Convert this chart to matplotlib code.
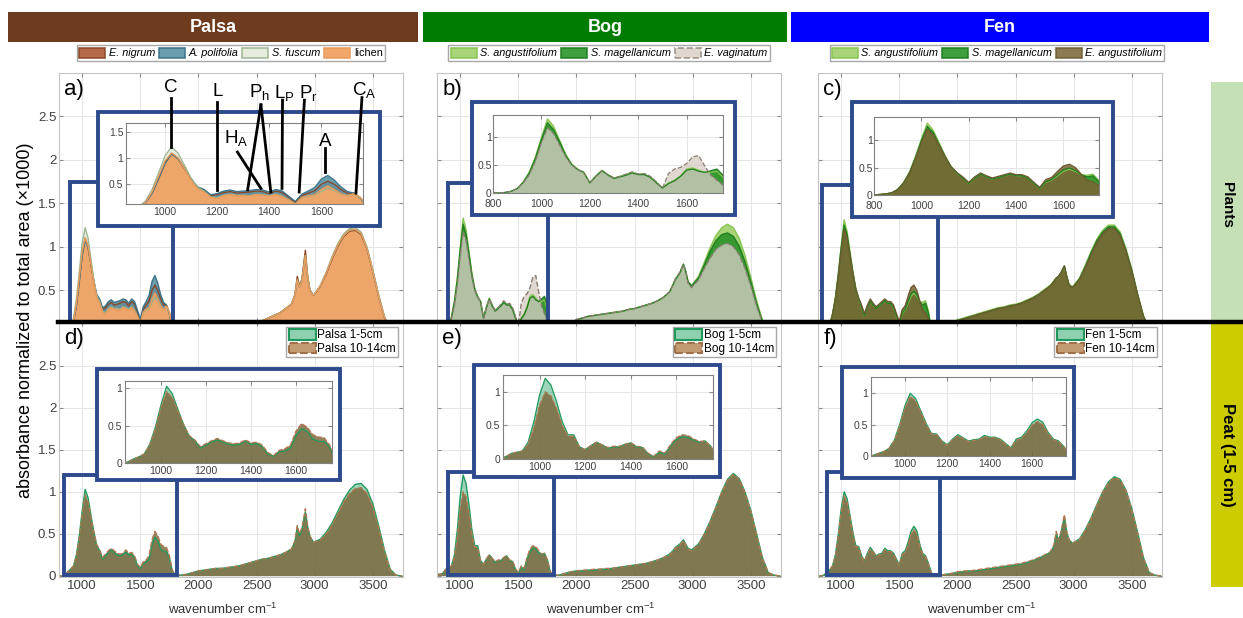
import numpy as np
import matplotlib.pyplot as plt
from matplotlib.patches import Rectangle, Patch
from matplotlib.lines import Line2D
from matplotlib.ticker import FuncFormatter

plt.rcParams['font.family'] = ['Liberation Sans', 'DejaVu Sans']
plt.rcParams['mathtext.fontset'] = 'custom'
plt.rcParams['mathtext.rm'] = 'Liberation Sans'
plt.rcParams['mathtext.it'] = 'Liberation Sans:italic'

W, H = 1243, 618

# -------------------------------------------------------
# wavenumber grid (cm-1), read-off spectra (absorbance x1000)
# rows: 800-1800 (step 25) | 1850-2800 (step 50) | C-H band | O-H band
# -------------------------------------------------------
WN = np.r_[800:1801:25, 1850:2801:50,
           [2830, 2850, 2870, 2890, 2920, 2940, 2960, 2990], 3050:3751:50]

# Palsa plants
E_NIGRUM = [
    0, 0, 0.01, 0.03, 0.06, 0.15, 0.33, 0.62, 0.92, 1.10,
    1.00, 0.80, 0.60, 0.44, 0.38, 0.28, 0.30, 0.34, 0.36, 0.33,
    0.34, 0.35, 0.37, 0.36, 0.32, 0.37, 0.34, 0.25, 0.15, 0.28,
    0.33, 0.38, 0.50, 0.56, 0.50, 0.40, 0.33, 0.33, 0.24, 0.07,
    0.01,
    0.00, 0.00, 0.01, 0.01, 0.02, 0.02, 0.03, 0.03, 0.04, 0.05,
    0.06, 0.08, 0.10, 0.12, 0.15, 0.18, 0.21, 0.24, 0.29, 0.34,
    0.45, 0.66, 0.55, 0.63, 0.96, 0.66, 0.50, 0.44,
    0.55, 0.69, 0.86, 1.01, 1.12, 1.18, 1.19, 1.14, 0.98, 0.72,
    0.44, 0.19, 0.05, 0.01, 0.00]
A_POLIFOLIA = [
    0, 0, 0.01, 0.03, 0.06, 0.14, 0.32, 0.60, 0.90, 1.08,
    0.99, 0.80, 0.60, 0.45, 0.40, 0.30, 0.32, 0.37, 0.39, 0.36,
    0.37, 0.38, 0.40, 0.39, 0.35, 0.40, 0.37, 0.27, 0.17, 0.31,
    0.37, 0.44, 0.60, 0.67, 0.58, 0.45, 0.36, 0.33, 0.23, 0.07,
    0.01,
    0.00, 0.00, 0.01, 0.01, 0.02, 0.02, 0.03, 0.03, 0.04, 0.05,
    0.06, 0.08, 0.10, 0.12, 0.15, 0.18, 0.21, 0.24, 0.29, 0.34,
    0.44, 0.62, 0.54, 0.61, 0.90, 0.64, 0.49, 0.44,
    0.55, 0.70, 0.87, 1.02, 1.13, 1.19, 1.20, 1.15, 0.98, 0.72,
    0.43, 0.19, 0.05, 0.01, 0.00]
S_FUSCUM = [
    0, 0, 0.01, 0.03, 0.07, 0.18, 0.40, 0.72, 1.05, 1.22,
    1.10, 0.86, 0.62, 0.44, 0.37, 0.26, 0.24, 0.29, 0.31, 0.29,
    0.29, 0.28, 0.31, 0.30, 0.28, 0.31, 0.27, 0.20, 0.12, 0.24,
    0.27, 0.29, 0.36, 0.42, 0.38, 0.31, 0.28, 0.31, 0.24, 0.08,
    0.01,
    0.00, 0.00, 0.01, 0.01, 0.02, 0.02, 0.03, 0.03, 0.04, 0.05,
    0.06, 0.08, 0.10, 0.12, 0.15, 0.18, 0.21, 0.24, 0.29, 0.34,
    0.44, 0.62, 0.54, 0.61, 0.90, 0.64, 0.49, 0.44,
    0.56, 0.71, 0.89, 1.04, 1.15, 1.21, 1.22, 1.17, 1.00, 0.74,
    0.45, 0.20, 0.05, 0.01, 0.00]
LICHEN = [
    0, 0, 0.00, 0.02, 0.05, 0.15, 0.35, 0.65, 0.95, 1.10,
    1.01, 0.80, 0.58, 0.41, 0.35, 0.25, 0.22, 0.28, 0.30, 0.28,
    0.28, 0.27, 0.30, 0.29, 0.27, 0.30, 0.26, 0.20, 0.12, 0.25,
    0.28, 0.30, 0.40, 0.47, 0.40, 0.32, 0.28, 0.32, 0.25, 0.09,
    0.01,
    0.00, 0.00, 0.01, 0.01, 0.02, 0.02, 0.03, 0.03, 0.04, 0.05,
    0.06, 0.08, 0.10, 0.12, 0.15, 0.18, 0.21, 0.24, 0.29, 0.34,
    0.44, 0.62, 0.54, 0.61, 0.90, 0.64, 0.49, 0.44,
    0.55, 0.70, 0.87, 1.02, 1.13, 1.19, 1.20, 1.15, 0.98, 0.72,
    0.43, 0.19, 0.05, 0.01, 0.00]

# Bog plants
S_ANG_BOG = [
    0, 0, 0.01, 0.03, 0.08, 0.20, 0.38, 0.65, 1.00, 1.33,
    1.20, 0.95, 0.70, 0.52, 0.43, 0.37, 0.19, 0.31, 0.41, 0.33,
    0.27, 0.30, 0.33, 0.37, 0.34, 0.34, 0.29, 0.19, 0.09, 0.18,
    0.23, 0.31, 0.43, 0.45, 0.41, 0.37, 0.37, 0.39, 0.28, 0.06,
    0.01,
    0.03, 0.08, 0.12, 0.16, 0.18, 0.20, 0.21, 0.22, 0.23, 0.24,
    0.25, 0.26, 0.28, 0.29, 0.31, 0.33, 0.35, 0.38, 0.42, 0.48,
    0.56, 0.62, 0.66, 0.70, 0.80, 0.72, 0.60, 0.55,
    0.66, 0.82, 0.99, 1.13, 1.22, 1.26, 1.22, 1.10, 0.90, 0.65,
    0.38, 0.16, 0.04, 0.01, 0.00]
S_MAG_BOG = [
    0, 0, 0.01, 0.03, 0.08, 0.19, 0.36, 0.62, 0.96, 1.26,
    1.14, 0.92, 0.68, 0.51, 0.42, 0.37, 0.18, 0.30, 0.40, 0.32,
    0.26, 0.29, 0.32, 0.36, 0.33, 0.33, 0.28, 0.18, 0.09, 0.17,
    0.22, 0.30, 0.41, 0.43, 0.39, 0.37, 0.40, 0.43, 0.32, 0.07,
    0.01,
    0.03, 0.08, 0.12, 0.16, 0.18, 0.20, 0.21, 0.22, 0.23, 0.24,
    0.25, 0.26, 0.28, 0.29, 0.31, 0.33, 0.35, 0.38, 0.42, 0.48,
    0.56, 0.62, 0.66, 0.70, 0.80, 0.72, 0.60, 0.55,
    0.64, 0.79, 0.95, 1.07, 1.14, 1.16, 1.12, 1.01, 0.83, 0.60,
    0.35, 0.14, 0.03, 0.01, 0.00]
E_VAGINATUM = [
    0, 0, 0.01, 0.03, 0.08, 0.18, 0.33, 0.57, 0.90, 1.17,
    1.07, 0.86, 0.65, 0.50, 0.42, 0.37, 0.18, 0.30, 0.40, 0.33,
    0.27, 0.30, 0.34, 0.38, 0.34, 0.35, 0.30, 0.20, 0.09, 0.35,
    0.43, 0.46, 0.53, 0.65, 0.67, 0.48, 0.32, 0.23, 0.14, 0.03,
    0.00,
    0.03, 0.08, 0.12, 0.16, 0.18, 0.20, 0.21, 0.22, 0.23, 0.24,
    0.25, 0.26, 0.28, 0.29, 0.31, 0.33, 0.35, 0.38, 0.42, 0.48,
    0.56, 0.63, 0.67, 0.71, 0.80, 0.72, 0.58, 0.53,
    0.62, 0.75, 0.87, 0.97, 1.02, 1.04, 1.00, 0.91, 0.75, 0.55,
    0.32, 0.13, 0.03, 0.01, 0.00]

# Fen plants
S_ANG_FEN = [
    0, 0.01, 0.02, 0.04, 0.10, 0.23, 0.42, 0.70, 1.02, 1.31,
    1.18, 0.95, 0.72, 0.52, 0.40, 0.31, 0.21, 0.31, 0.38, 0.33,
    0.29, 0.32, 0.35, 0.38, 0.35, 0.35, 0.31, 0.21, 0.12, 0.23,
    0.27, 0.35, 0.43, 0.47, 0.43, 0.37, 0.36, 0.38, 0.26, 0.05,
    0.00,
    0.03, 0.09, 0.13, 0.16, 0.18, 0.20, 0.22, 0.24, 0.26, 0.28,
    0.30, 0.31, 0.33, 0.34, 0.36, 0.39, 0.42, 0.46, 0.51, 0.56,
    0.61, 0.64, 0.66, 0.70, 0.77, 0.66, 0.57, 0.54,
    0.64, 0.79, 0.95, 1.09, 1.19, 1.25, 1.25, 1.17, 0.98, 0.74,
    0.46, 0.21, 0.06, 0.01, 0.00]
S_MAG_FEN = [
    0, 0.01, 0.02, 0.04, 0.10, 0.22, 0.41, 0.68, 0.99, 1.25,
    1.14, 0.92, 0.70, 0.51, 0.40, 0.31, 0.21, 0.31, 0.38, 0.33,
    0.29, 0.32, 0.35, 0.38, 0.35, 0.35, 0.31, 0.21, 0.12, 0.24,
    0.28, 0.37, 0.46, 0.49, 0.45, 0.37, 0.33, 0.35, 0.24, 0.05,
    0.00,
    0.03, 0.08, 0.12, 0.15, 0.17, 0.19, 0.21, 0.23, 0.25, 0.27,
    0.29, 0.30, 0.32, 0.33, 0.35, 0.38, 0.41, 0.45, 0.50, 0.55,
    0.60, 0.64, 0.66, 0.70, 0.78, 0.66, 0.56, 0.53,
    0.63, 0.77, 0.93, 1.07, 1.17, 1.23, 1.23, 1.15, 0.96, 0.73,
    0.45, 0.20, 0.06, 0.01, 0.00]
E_ANGUSTIFOLIUM = [
    0, 0.01, 0.02, 0.04, 0.10, 0.22, 0.40, 0.66, 0.96, 1.20,
    1.10, 0.90, 0.70, 0.52, 0.41, 0.33, 0.23, 0.33, 0.40, 0.35,
    0.31, 0.34, 0.37, 0.40, 0.37, 0.37, 0.33, 0.23, 0.14, 0.28,
    0.32, 0.43, 0.53, 0.56, 0.50, 0.38, 0.27, 0.24, 0.17, 0.04,
    0.00,
    0.03, 0.08, 0.12, 0.15, 0.17, 0.19, 0.21, 0.23, 0.25, 0.27,
    0.29, 0.30, 0.32, 0.33, 0.35, 0.38, 0.41, 0.45, 0.50, 0.55,
    0.60, 0.64, 0.66, 0.70, 0.78, 0.66, 0.56, 0.53,
    0.62, 0.76, 0.91, 1.05, 1.15, 1.21, 1.21, 1.13, 0.95, 0.72,
    0.45, 0.20, 0.06, 0.01, 0.00]

# Peat, 1-5 cm and 10-14 cm
PALSA_1_5 = [
    0.00, 0.00, 0.01, 0.05, 0.08, 0.12, 0.25, 0.48, 0.78, 1.03,
    0.93, 0.72, 0.52, 0.36, 0.30, 0.20, 0.24, 0.28, 0.31, 0.28,
    0.25, 0.24, 0.25, 0.29, 0.25, 0.26, 0.22, 0.12, 0.09, 0.15,
    0.16, 0.20, 0.37, 0.46, 0.42, 0.32, 0.29, 0.29, 0.21, 0.06,
    0.01,
    0.01, 0.02, 0.04, 0.06, 0.07, 0.08, 0.09, 0.09, 0.10, 0.11,
    0.12, 0.14, 0.16, 0.18, 0.20, 0.21, 0.23, 0.25, 0.28, 0.32,
    0.40, 0.58, 0.48, 0.55, 0.76, 0.58, 0.47, 0.40,
    0.44, 0.52, 0.63, 0.77, 0.91, 1.02, 1.09, 1.10, 1.03, 0.86,
    0.60, 0.31, 0.08, 0.01, 0.00]
PALSA_10_14 = [
    0.00, 0.00, 0.01, 0.05, 0.08, 0.12, 0.24, 0.46, 0.74, 0.96,
    0.88, 0.70, 0.52, 0.37, 0.31, 0.22, 0.26, 0.30, 0.33, 0.30,
    0.27, 0.26, 0.27, 0.31, 0.27, 0.28, 0.24, 0.14, 0.10, 0.17,
    0.19, 0.24, 0.43, 0.53, 0.48, 0.38, 0.35, 0.34, 0.24, 0.07,
    0.01,
    0.01, 0.02, 0.04, 0.06, 0.07, 0.08, 0.09, 0.09, 0.10, 0.11,
    0.12, 0.14, 0.16, 0.18, 0.20, 0.21, 0.23, 0.25, 0.28, 0.32,
    0.42, 0.60, 0.50, 0.57, 0.80, 0.59, 0.47, 0.40,
    0.43, 0.50, 0.61, 0.74, 0.88, 0.98, 1.04, 1.05, 0.98, 0.82,
    0.57, 0.29, 0.07, 0.01, 0.00]
BOG_1_5 = [
    0.02, 0.02, 0.03, 0.08, 0.10, 0.12, 0.25, 0.55, 0.95, 1.20,
    1.10, 0.85, 0.55, 0.36, 0.36, 0.18, 0.14, 0.20, 0.25, 0.21,
    0.16, 0.18, 0.18, 0.22, 0.24, 0.18, 0.17, 0.08, 0.03, 0.10,
    0.07, 0.20, 0.29, 0.33, 0.32, 0.28, 0.25, 0.27, 0.19, 0.05,
    0.01,
    0.01, 0.03, 0.05, 0.06, 0.06, 0.07, 0.07, 0.08, 0.08, 0.09,
    0.10, 0.11, 0.12, 0.13, 0.14, 0.15, 0.17, 0.19, 0.22, 0.26,
    0.30, 0.34, 0.36, 0.38, 0.43, 0.38, 0.33, 0.31,
    0.38, 0.50, 0.65, 0.82, 1.00, 1.15, 1.22, 1.16, 1.00, 0.78,
    0.50, 0.22, 0.04, 0.01, 0.00]
BOG_10_14 = [
    0.02, 0.02, 0.03, 0.08, 0.10, 0.12, 0.22, 0.46, 0.80, 1.00,
    0.94, 0.75, 0.50, 0.34, 0.34, 0.18, 0.14, 0.20, 0.25, 0.21,
    0.17, 0.19, 0.19, 0.22, 0.24, 0.19, 0.18, 0.09, 0.04, 0.12,
    0.09, 0.22, 0.32, 0.36, 0.35, 0.30, 0.26, 0.27, 0.19, 0.05,
    0.01,
    0.01, 0.03, 0.05, 0.06, 0.07, 0.07, 0.08, 0.08, 0.09, 0.09,
    0.10, 0.11, 0.12, 0.13, 0.14, 0.15, 0.17, 0.19, 0.22, 0.25,
    0.29, 0.33, 0.35, 0.37, 0.42, 0.37, 0.32, 0.30,
    0.37, 0.49, 0.64, 0.81, 0.99, 1.14, 1.21, 1.15, 0.99, 0.77,
    0.49, 0.21, 0.04, 0.01, 0.00]
FEN_1_5 = [
    0.00, 0.00, 0.01, 0.04, 0.07, 0.12, 0.25, 0.50, 0.80, 1.00,
    0.92, 0.72, 0.52, 0.36, 0.35, 0.24, 0.18, 0.27, 0.34, 0.29,
    0.24, 0.26, 0.27, 0.33, 0.30, 0.30, 0.27, 0.20, 0.13, 0.27,
    0.30, 0.40, 0.53, 0.59, 0.54, 0.38, 0.27, 0.24, 0.15, 0.04,
    0.00,
    0.01, 0.02, 0.03, 0.04, 0.05, 0.06, 0.06, 0.07, 0.08, 0.09,
    0.10, 0.11, 0.12, 0.13, 0.14, 0.16, 0.18, 0.21, 0.24, 0.28,
    0.35, 0.50, 0.42, 0.50, 0.70, 0.52, 0.43, 0.39,
    0.44, 0.55, 0.69, 0.85, 1.00, 1.12, 1.18, 1.15, 1.02, 0.80,
    0.52, 0.22, 0.04, 0.01, 0.00]
FEN_10_14 = [
    0.00, 0.00, 0.01, 0.04, 0.07, 0.12, 0.24, 0.48, 0.76, 0.95,
    0.88, 0.70, 0.50, 0.35, 0.34, 0.23, 0.17, 0.26, 0.32, 0.28,
    0.23, 0.25, 0.26, 0.31, 0.29, 0.29, 0.26, 0.19, 0.12, 0.25,
    0.28, 0.37, 0.49, 0.55, 0.50, 0.36, 0.26, 0.23, 0.14, 0.04,
    0.00,
    0.01, 0.02, 0.03, 0.05, 0.06, 0.06, 0.07, 0.08, 0.09, 0.10,
    0.11, 0.12, 0.13, 0.14, 0.15, 0.17, 0.19, 0.22, 0.25, 0.29,
    0.37, 0.53, 0.43, 0.52, 0.73, 0.53, 0.43, 0.39,
    0.43, 0.54, 0.68, 0.84, 0.99, 1.11, 1.17, 1.14, 1.01, 0.79,
    0.51, 0.21, 0.04, 0.01, 0.00]

# -------------------------------------------------------
# styles: (values, face, alpha, edge, linestyle, label)
# -------------------------------------------------------
BLUE = '#2c4a8c'
PALSA_PLANTS = [
    (E_NIGRUM, '#b05a35', 0.9, '#8a4526', '-', 'E. nigrum'),
    (A_POLIFOLIA, '#5b95a8', 0.9, '#3b7388', '-', 'A. polifolia'),
    (S_FUSCUM, '#e4eadb', 0.9, '#9bb58e', '-', 'S. fuscum'),
    (LICHEN, '#f0a060', 0.92, '#eb9a58', '-', 'lichen'),
]
BOG_PLANTS = [
    (S_ANG_BOG, '#9fd068', 0.9, '#86c450', '-', 'S. angustifolium'),
    (S_MAG_BOG, '#2a942a', 0.9, '#1f7f1f', '-', 'S. magellanicum'),
    (E_VAGINATUM, '#d6cdc4', 0.78, '#8a7d72', '--', 'E. vaginatum'),
]
FEN_PLANTS = [
    (S_ANG_FEN, '#9fd068', 0.9, '#86c450', '-', 'S. angustifolium'),
    (S_MAG_FEN, '#2a942a', 0.9, '#1f7f1f', '-', 'S. magellanicum'),
    (E_ANGUSTIFOLIUM, '#7a6535', 0.86, '#6d5a30', '-', 'E. angustifolium'),
]
# legend swatches of the peat panels (lighter, as in the original key)
PEAT_KEY = [('#8fd0b0', '#1f9a5c', '-'), ('#c49a72', '#a0704a', '--')]


def peat(top, deep, site):
    return [(top, '#3aa874', 0.5, '#1f9a5c', '-', site + ' 1-5cm'),
            (deep, '#7a6236', 0.8, '#b07850', '--', site + ' 10-14cm')]


fig = plt.figure(figsize=(W / 100, H / 100), dpi=100)


def add_ax(x0, x1, y0, y1, **kw):
    return fig.add_axes([x0 / W, 1 - y1 / H, (x1 - x0) / W, (y1 - y0) / H], **kw)


def fig_rect(x0, x1, y0, y1, **kw):
    r = Rectangle((x0 / W, 1 - y1 / H), (x1 - x0) / W, (y1 - y0) / H,
                  transform=fig.transFigure, **kw)
    fig.add_artist(r)
    return r


fmt = FuncFormatter(lambda v, p: f'{v:g}')


def draw_spectra(ax, specs, lw=1.0):
    for vals, face, alpha, edge, ls, _ in specs:
        ax.fill_between(WN, 0, vals, facecolor=face, alpha=alpha, lw=0)
        ax.plot(WN, vals, color=edge, ls=ls, lw=lw)


def style(ax, xlim, ylim, xt, yt, size, spine, grid):
    ax.set_xlim(*xlim)
    ax.set_ylim(*ylim)
    ax.set_xticks(xt)
    ax.set_yticks(yt)
    ax.xaxis.set_major_formatter(fmt)
    ax.yaxis.set_major_formatter(fmt)
    ax.grid(True, color=grid, lw=0.7)
    ax.set_axisbelow(True)
    ax.tick_params(direction='in', length=3, top=True, right=True,
                   labelsize=size, labelcolor='#404040', color='#888888', pad=2)
    for sp in ax.spines.values():
        sp.set_color(spine)
        sp.set_linewidth(0.8)


MAIN_XT = [1000, 1500, 2000, 2500, 3000, 3500]
PANELS = [
    # letter, specs, axes px, zoom rect (x0, x1, top), inset px, inset box px, inset xlim, ylim, ticks
    ('a', PALSA_PLANTS, (59, 403, 73, 322), (895, 1780, 1.75),
     (126, 363, 123, 204), (98, 380, 112, 226), (850, 1760), (0.12, 1.68),
     [1000, 1200, 1400, 1600], [0.5, 1, 1.5]),
    ('b', BOG_PLANTS, (437, 781, 73, 322), (895, 1753, 1.74),
     (493, 723, 115, 193), (472, 735, 102, 215), (800, 1750), (0, 1.4),
     [800, 1000, 1200, 1400, 1600], [0, 0.5, 1]),
    ('c', FEN_PLANTS, (818, 1162, 73, 322), (834, 1830, 1.71),
     (874, 1099, 117, 195), (852, 1113, 102, 217), (800, 1750), (0, 1.42),
     [800, 1000, 1200, 1400, 1600], [0, 0.5, 1]),
    ('d', peat(PALSA_1_5, PALSA_10_14, 'Palsa'), (59, 403, 322, 577), (843, 1814, 1.2),
     (125, 332, 381, 463), (97, 340, 369, 480), (840, 1760), (0, 1.1),
     [1000, 1200, 1400, 1600], [0, 0.5, 1]),
    ('e', peat(BOG_1_5, BOG_10_14, 'Bog'), (437, 781, 322, 577), (895, 1805, 1.24),
     (503, 713, 375, 459), (474, 720, 365, 477), (840, 1760), (0, 1.25),
     [1000, 1200, 1400, 1600], [0, 0.5, 1]),
    ('f', peat(FEN_1_5, FEN_10_14, 'Fen'), (818, 1162, 322, 577), (878, 1848, 1.24),
     (871, 1066, 377, 456), (842, 1074, 367, 478), (840, 1760), (0, 1.26),
     [1000, 1200, 1400, 1600], [0, 0.5, 1]),
]

insets = {}
for letter, specs, box, zr, ibox, iframe, ixlim, iylim, ixt, iyt in PANELS:
    top = letter in 'abc'
    ax = add_ax(*box)
    draw_spectra(ax, specs, lw=1.0)
    if top:
        style(ax, (800, 3760), (0.135, 3.0), MAIN_XT, [0.5, 1, 1.5, 2, 2.5],
              9.5, '#c4c4c4', '#e4e4e4')
        ax.tick_params(labelbottom=False)
        ax.add_patch(Rectangle((zr[0], -0.5), zr[1] - zr[0], zr[2] + 0.5,
                               fill=False, ec=BLUE, lw=2.8, zorder=5))
    else:
        style(ax, (800, 3760), (-0.012, 3.02), MAIN_XT, [0, 0.5, 1, 1.5, 2, 2.5],
              9.5, '#c4c4c4', '#e4e4e4')
        ax.add_patch(Rectangle((zr[0], 0.006), zr[1] - zr[0], zr[2] - 0.006,
                               fill=False, ec=BLUE, lw=2.8, zorder=5))
        handles = [Patch(facecolor=f, edgecolor=e, linestyle=ls, lw=1.5)
                   for f, e, ls in PEAT_KEY]
        ax.legend(handles, [s[5] for s in specs], loc='upper right', fontsize=8.5,
                  fancybox=False, edgecolor='#a8a8a8', framealpha=1,
                  borderpad=0.2, handlelength=2.3, handleheight=1.0,
                  handletextpad=0.1, labelspacing=0.1, borderaxespad=0.4)
        fig.text(((box[0] + box[1]) / 2 - 8) / W, 1 - 609 / H,
                 r'wavenumber cm$^{-1}$', ha='center', va='center',
                 fontsize=9.5, color='#333333')
    if letter not in 'ad':
        ax.tick_params(labelleft=False)
    ax.text(0.015, 0.975, letter + ')', transform=ax.transAxes, fontsize=16,
            va='top', ha='left')

    # magnified fingerprint region
    fig_rect(*iframe, fc='white', ec=BLUE, lw=2.8, zorder=2)
    iax = add_ax(*ibox, zorder=3)
    draw_spectra(iax, specs, lw=0.9)
    style(iax, ixlim, iylim, ixt, iyt, 7.5, '#808080', '#e6e6e6')
    if ixlim[0] == 800:
        # keep the "0" and "800" corner labels apart
        iax.tick_params(axis='x', pad=4)
        iax.tick_params(axis='y', pad=1)
    insets[letter] = iax

# band assignments in panel a (inset coordinates)
ANNOT_A = [
    ('C', (1022, 2.36), [((1023, 2.17), (1023, 1.22))]),
    ('L', (1201, 2.29), [((1200, 2.08), (1200, 0.39))]),
    (r'P$_\mathregular{h}$', (1362, 2.27),
     [((1368, 2.03), (1317, 0.39)), ((1368, 2.03), (1406, 0.35))]),
    (r'L$_\mathregular{P}$', (1458, 2.25), [((1451, 2.12), (1449, 0.42))]),
    (r'P$_\mathregular{r}$', (1550, 2.25), [((1535, 2.12), (1515, 0.35))]),
    (r'C$_\mathregular{A}$', (1765, 2.32), [((1756, 2.17), (1733, 0.33))]),
    (r'H$_\mathregular{A}$', (1273, 1.40), [((1278, 1.12), (1368, 0.42))]),
    ('A', (1615, 1.33), [((1615, 1.19), (1615, 0.74))]),
]
ia = insets['a']
for lab, (tx, ty), segs in ANNOT_A:
    ia.text(tx, ty, lab, fontsize=13.5, ha='center', va='center', clip_on=False, zorder=6)
    for (x0, y0), (x1, y1) in segs:
        ia.plot([x0, x1], [y0, y1], color='black', lw=2.0, clip_on=False, zorder=6)

# site headers and species legends
HEADERS = [('Palsa', 8, 418, '#6e3b1e'), ('Bog', 423, 787, '#007d00'),
           ('Fen', 791, 1209, '#0000ff')]
for name, x0, x1, col in HEADERS:
    fig_rect(x0, x1, 12, 42, fc=col, ec='none', zorder=2)
    fig.text((x0 + x1) / 2 / W, 1 - 27.5 / H, name, color='white',
             fontweight='bold', fontsize=13, ha='center', va='center', zorder=3)

for specs, cx in [(PALSA_PLANTS, 231), (BOG_PLANTS, 609), (FEN_PLANTS, 997)]:
    handles = [Patch(facecolor=f, alpha=a, edgecolor=e, linestyle=ls, lw=1.2)
               for _, f, a, e, ls, _ in specs]
    leg = fig.legend(handles, [s[5] for s in specs], loc='center',
                     bbox_to_anchor=(cx / W, 1 - 53 / H), ncol=len(specs),
                     fontsize=7.8, fancybox=False, edgecolor='#a8a8a8',
                     framealpha=1, borderpad=0.2, handlelength=2.4,
                     handleheight=1.1, handletextpad=0.35, columnspacing=0.35)
    for t in leg.get_texts():
        if t.get_text() != 'lichen':
            t.set_style('italic')

# row labels on the right
fig_rect(1211, 1243, 82, 322, fc='#c5e0b4', ec='none', zorder=2)
fig_rect(1211, 1243, 322, 587, fc='#cccc00', ec='none', zorder=2)
fig.text(1227 / W, 1 - 205 / H, 'Plants', rotation=-90, fontweight='bold',
         fontsize=11, ha='center', va='center', zorder=3)
fig.text(1227 / W, 1 - 455 / H, 'Peat (1-5 cm)', rotation=-90, fontweight='bold',
         fontsize=12, ha='center', va='center', zorder=3)

fig.text(26 / W, 1 - 320 / H, 'absorbance normalized to total area (×1000)',
         rotation=90, fontsize=13, ha='center', va='center')

# divider between the plant and peat rows
fig.add_artist(Line2D([58 / W, 1.0], [1 - 322 / H] * 2, transform=fig.transFigure,
                      color='black', lw=3.2, zorder=10))

fig.savefig('out.png', dpi=100)
